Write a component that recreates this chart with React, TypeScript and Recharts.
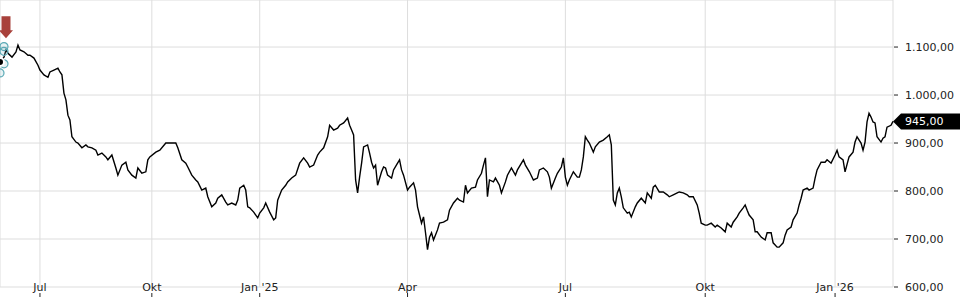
import { CartesianGrid, ComposedChart, Line, ReferenceDot, XAxis, YAxis } from "recharts";

// trading session index (x) and closing price
const sessions = [
  0, 2, 3, 4, 6, 8, 9, 10, 12, 14, 15, 17, 19, 20, 22, 24, 25, 27, 29, 30, 31, 32, 33, 34, 35, 36, 38, 39, 41, 43,
  44, 46, 48, 49, 51, 53, 54, 56, 58, 59, 61, 63, 64, 66, 68, 69, 71, 73, 74,
  75, 78, 80, 83, 85, 88, 89, 91, 93, 94, 96, 98, 99, 101, 103, 104, 106, 108, 109, 111, 113, 114, 116, 118, 119,
  120, 122, 123, 124, 125, 127, 129, 130, 132, 133, 135, 137, 138, 139, 141, 143, 144, 146, 148, 150,
  152, 154, 155, 157, 159, 160, 162, 164, 165, 167, 169, 170, 172, 174, 175, 176, 177, 178, 179, 180, 181, 182,
  184, 185, 186, 187, 188, 189, 191, 192, 193, 194, 196, 197, 199, 200, 201, 202, 204, 205, 207, 208, 209, 210,
  211, 212, 213, 214, 215, 216, 217, 219, 220, 222, 224, 225,
  227, 229, 230, 232, 233, 234, 236, 238, 239, 241, 242, 243, 244, 245, 247, 248, 250, 251, 253, 254, 256, 258,
  259, 262, 263, 265, 267, 269, 270, 272, 274, 275, 276, 278, 279, 281, 282, 283, 284, 285, 287, 289, 290, 291,
  292, 293, 294, 295, 297, 298, 300, 302, 304, 305, 306,
  307, 308, 309, 310, 311, 312, 314, 315, 316, 318, 319, 321, 323, 324, 326, 327, 328, 330, 332, 334, 335, 337,
  339, 340, 342, 344, 345, 347, 349, 350, 351, 353, 354, 356, 358, 359, 361, 363, 364, 366, 367, 369, 370, 372,
  373, 374,
  375, 377, 378, 379, 381, 383, 384, 386, 387, 389, 390, 392, 393, 394, 396, 397, 399, 400, 401, 402, 404, 405,
  407, 408, 409, 411, 413, 414, 416, 418, 419, 420, 422, 423, 425, 427, 428, 429, 431, 432, 433, 434, 435, 436,
  437, 438, 439, 441, 442, 443, 444, 446, 447,
];

const closes = [
  1069, 1079, 1094, 1087, 1079, 1090, 1104, 1094, 1090, 1083, 1083, 1077, 1062, 1052, 1042, 1037, 1048, 1052, 1056,
  1048, 1042, 1004, 990, 958, 948, 913, 902, 900, 890, 896, 892, 890, 885, 875, 879, 871, 865, 875, 848, 833, 854,
  860, 844, 833, 827, 848, 837, 840, 865,
  871, 881, 885, 900, 900, 900, 890, 865, 858, 850, 833, 823, 819, 802, 806, 788, 767, 775, 785, 792, 777, 771, 775,
  771, 781, 806, 812, 802, 767, 765, 756, 744, 754, 765, 775, 756, 740, 744, 781, 802, 812, 819, 827, 833, 858,
  869, 858, 850, 854, 875, 881, 890, 913, 937, 927, 931, 937, 942, 952, 937, 927, 917, 823, 796, 829, 858, 892,
  896, 879, 860, 848, 854, 812, 840, 850, 848, 833, 827, 844, 858, 865, 844, 833, 802, 808, 817, 802, 767, 750,
  733, 746, 713, 678, 704, 713, 698, 719, 733, 735, 740, 760,
  775, 785, 781, 777, 812, 796, 806, 808, 823, 837, 854, 869, 788, 823, 819, 827, 812, 796, 819, 833, 848, 833,
  844, 865, 854, 840, 823, 827, 844, 848, 840, 829, 806, 827, 837, 850, 869, 829, 812, 823, 840, 829, 829, 844,
  871, 913, 906, 900, 881, 892, 902, 906, 913, 917, 896,
  781, 771, 796, 806, 788, 765, 754, 756, 746, 767, 775, 785, 775, 796, 785, 808, 812, 798, 798, 792, 788, 792,
  796, 798, 796, 792, 788, 788, 771, 754, 733, 729, 729, 733, 725, 729, 723, 715, 733, 725, 735, 746, 754, 765,
  771, 760,
  750, 740, 715, 715, 704, 698, 713, 713, 692, 683, 683, 692, 708, 719, 725, 740, 754, 771, 785, 802, 806, 802,
  806, 827, 844, 860, 860, 865, 858, 875, 885, 871, 865, 840, 871, 881, 902, 913, 900, 885, 902, 944, 962, 954,
  944, 942, 913, 902, 910, 913, 933, 937, 945,
];

const tickSessions = [20, 76, 130, 204, 283, 353, 418];
const tickLabels = ["Jul", "Okt", "Jan '25", "Apr", "Jul", "Okt", "Jan '26"];
const priceTicks = [600, 700, 800, 900, 1000, 1100];

// event markers near the start of the series
const eventMarkers = [
  { session: 2, price: 1101 },
  { session: 2, price: 1091 },
  { session: 2, price: 1065 },
  { session: 0, price: 1046 },
];
const signal = { session: 3, price: 1139 };

const data = sessions.map((s, i) => ({ session: s, close: closes[i] }));
const last = data[data.length - 1];

const font = "DejaVu Sans, sans-serif";

function fmt(v: number) {
  const [int, dec] = v.toFixed(2).split(".");
  return int.replace(/\B(?=(\d{3})+(?!\d))/g, ".") + "," + dec;
}

function PriceTick(props: any) {
  const { x, y, payload } = props;
  return (
    <g>
      <line x1={x + 1} x2={x + 5} y1={y} y2={y} stroke="#222" />
      <text x={x + 12} y={y} dy={4} fontSize={11} fill="#222" fontFamily={font}>
        {fmt(payload.value)}
      </text>
    </g>
  );
}

function DateTick(props: any) {
  const { x, y, payload } = props;
  const label = tickLabels[tickSessions.indexOf(payload.value)];
  return (
    <g>
      <text x={x} y={y} dy={4} textAnchor="middle" fontSize={11} fill="#222" fontFamily={font}>
        {label}
      </text>
      <line x1={x} x2={x} y1={y + 6} y2={y + 10} stroke="#222" />
    </g>
  );
}

function LastTag(props: any) {
  const { cx, cy } = props;
  return (
    <g>
      <polygon
        points={`${cx},${cy} ${cx + 8},${cy - 8} 960,${cy - 8} 960,${cy + 8} ${cx + 8},${cy + 8}`}
        fill="#000"
      />
      <text x={cx + 12} y={cy} dy={4} fontSize={11} fill="#fff" fontFamily={font}>
        {fmt(last.close)}
      </text>
    </g>
  );
}

function SignalArrow(props: any) {
  const { cx, cy } = props;
  return (
    <polygon
      points={`${cx - 4.5},${cy - 12} ${cx + 4.5},${cy - 12} ${cx + 4.5},${cy + 2} ${cx + 7},${cy + 2} ${cx},${cy + 10} ${cx - 7},${cy + 2} ${cx - 4.5},${cy + 2}`}
      fill="#a8413b"
    />
  );
}

export default function App() {
  return (
    <div style={{ position: "absolute", left: 0, top: 0 }}>
      <ComposedChart width={960} height={300} data={data} margin={{ top: 0, right: 0, bottom: 0, left: 0 }}>
        <CartesianGrid stroke="#dddddd" />
        <XAxis
          dataKey="session"
          type="number"
          domain={[0, 447]}
          ticks={tickSessions}
          interval={0}
          height={13}
          axisLine={false}
          tickLine={false}
          tickSize={0}
          tickMargin={0}
          tick={<DateTick />}
        />
        <YAxis
          orientation="right"
          type="number"
          domain={[600, 1198]}
          ticks={priceTicks}
          width={67}
          axisLine={false}
          tickLine={false}
          tickSize={0}
          tickMargin={0}
          tick={<PriceTick />}
        />
        <Line
          dataKey="close"
          type="linear"
          stroke="#000"
          strokeWidth={1.4}
          dot={false}
          isAnimationActive={false}
        />
        {eventMarkers.map((m, i) => (
          <ReferenceDot
            key={i}
            x={m.session}
            y={m.price}
            r={4}
            fill="rgba(95,170,182,0.15)"
            stroke="#5aa9b5"
            strokeWidth={1.2}
            ifOverflow="visible"
          />
        ))}
        <ReferenceDot x={signal.session} y={signal.price} r={8} shape={<SignalArrow />} ifOverflow="visible" />
        <ReferenceDot x={last.session} y={last.close} r={8} shape={<LastTag />} ifOverflow="visible" />
      </ComposedChart>
    </div>
  );
}
